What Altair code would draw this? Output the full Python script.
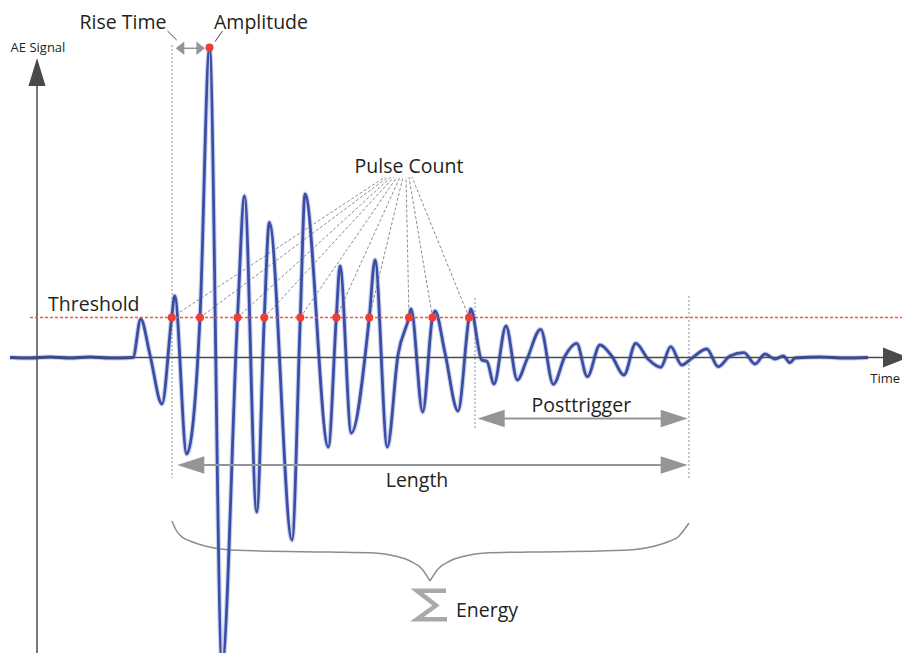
import altair as alt
import pandas as pd

# ---------------- data ----------------
# AE waveform: time (arbitrary units) and signal amplitude (arbitrary units)
wave_time = [-27, -7, 13, 33, 53, 73, 96, 103.7, 113, 125, 134.7, 137.7, 149.7, 163, 172.5,
             185, 200.5, 207.5, 219.7, 227.3, 232.3, 255, 263.3, 268, 291.3, 299.3, 303,
             314.3, 332.3, 338, 350.3, 361, 372, 374, 385.7, 395.5, 398, 408, 421, 432,
             433.7, 444.7, 450, 457, 469, 480.3, 489.7, 503.7, 516.3, 528, 539.7, 550.3,
             563, 574.7, 587, 598.7, 611.3, 623.7, 633.7, 644.7, 654.7, 669.7, 681.3, 693,
             707, 718, 728, 738, 746.3, 753, 758, 783, 808, 831]
wave_amp = [0, -0.5, 0.5, -0.5, 0.5, -0.5, 0, 38.5, 2.5, -46.5, 40, 61.5, -96.5, 40, 309.5,
            -307.5, 40, 161.5, -154.5, 40, 135, -182.5, 40, 163.5, -89.5, 40, 91.5,
            -75.5, 40, 97.5, -89.5, 2.5, 40, 48.5, -54.5, 40, 46.5, 4.5, -53.5, 40,
            48.5, -2.5, -4, -26.5, 31.5, -22.5, -2.5, 28.2, -26.8, 1.5, 14.2, -19.2,
            12.5, 1.5, -17.5, 14.2, -1.8, -9.8, 10.8, -7.5, -0.8, 8.5, -9.2, 1.5,
            4.8, -6.5, 3.5, -1.5, 1.5, -5.2, -0.5, 0.5, -0.5, 0]

threshold = 40
hit_time = [134.7, 163, 200.5, 227.3, 263.3, 299.3, 332.3, 372, 395.5, 432]
peak_time = [172.5]
peak_amp = [310]
pulse_anchor_time = [348, 351, 354, 357, 360, 363, 366, 369, 372, 375]
pulse_anchor_amp = 180.5

# brace (two halves) and sigma glyph
brace_left_t = [135, 139, 145, 153, 168, 188, 223, 293, 338, 358, 373, 385, 393]
brace_left_v = [-163.5, -172.5, -179.5, -183.5, -188.5, -192, -193.5, -194.5, -195.5,
                -198.5, -203.5, -211.5, -223.5]
brace_right_t = [393, 401, 413, 428, 448, 493, 563, 598, 618, 633, 641, 647, 652]
brace_right_v = [-223.5, -211.5, -203.5, -198.5, -195.5, -194.5, -193.5, -192, -188.5,
                 -183.5, -179.5, -172.5, -165.5]
sigma_t = [409, 380, 399, 380, 410]
sigma_v = [-233.3, -233.3, -248, -261.7, -261.7]

# labels
big_labels = ["Rise Time", "Amplitude", "Threshold", "Pulse Count", "Posttrigger", "Length"]
big_label_t = [86, 224, 56.8, 372, 544.3, 380]
big_label_v = [328.5, 328.5, 46.8, 184.8, -54, -129.2]

# ---------------- scales ----------------
W, H = 894, 645
xs = alt.Scale(domain=[-29, 865], nice=False, zero=False)
ys = alt.Scale(domain=[349.5 - H, 349.5], nice=False, zero=False)


def X(f):
    return alt.X(f, type="quantitative", scale=xs, axis=None)


def Y(f):
    return alt.Y(f, type="quantitative", scale=ys, axis=None)


GRAY = "#939598"
DARK = "#4a4a4c"
TXT = "#231f20"
RED = "#ee3e36"
FONT = "Open Sans"

wave_df = pd.DataFrame({"t": wave_time, "v": wave_amp})
halo = alt.Chart(wave_df).mark_line(interpolate="monotone", color="#8f9bd3",
                                    strokeWidth=5, opacity=0.45).encode(x=X("t"), y=Y("v"))
wave = alt.Chart(wave_df).mark_line(interpolate="monotone", color="#3a4ea6",
                                    strokeWidth=2.8).encode(x=X("t"), y=Y("v"))

# axes
axis_df = pd.DataFrame({"t": [-27, 0], "t2": [848, 0], "v": [0, 271.5], "v2": [0, -330]})
axes = alt.Chart(axis_df).mark_rule(color=DARK, strokeWidth=1.5).encode(
    x=X("t"), x2="t2", y=Y("v"), y2="v2")


def head(t, v, path, size, color):
    return alt.Chart(pd.DataFrame({"t": t, "v": v})).mark_point(
        shape=path, size=size, filled=True, color=color, opacity=1, strokeWidth=0
    ).encode(x=X("t"), y=Y("v"))


y_head = head([0], [299.5], "M0,0L-0.61,2L0.61,2Z", 784, DARK)
x_head = head([871], [0], "M0,0L-2,-0.8L-2,0.8Z", 625, DARK)

# threshold
thr = alt.Chart(pd.DataFrame({"t": [-7], "t2": [868], "v": [threshold]})).mark_rule(
    color="#f05a42", strokeWidth=1.3, strokeDash=[3, 2]).encode(x=X("t"), x2="t2", y=Y("v"))

# pulse count leader lines
pulse_df = pd.DataFrame({"t": hit_time, "v": [threshold] * len(hit_time),
                         "t2": pulse_anchor_time, "v2": [pulse_anchor_amp] * len(hit_time)})
pulse = alt.Chart(pulse_df).mark_rule(color="#8a8c8f", strokeWidth=1, strokeDash=[3, 2]).encode(
    x=X("t"), y=Y("v"), x2="t2", y2="v2")

# vertical dotted markers
vdf = pd.DataFrame({"t": [135, 438, 652], "v": [312.5, 59.5, 61.5], "v2": [-120.5, -72.5, -120.5]})
vlines = alt.Chart(vdf).mark_rule(color="#8a8c8f", strokeWidth=1, strokeDash=[2, 2]).encode(
    x=X("t"), y=Y("v"), y2="v2")

# text leader lines
ldf = pd.DataFrame({"t": [130.5, 185.5], "v": [326.5, 326.5], "t2": [139.7, 178], "v2": [317.5, 315.8]})
leaders = alt.Chart(ldf).mark_rule(color=DARK, strokeWidth=1).encode(
    x=X("t"), y=Y("v"), x2="t2", y2="v2")

# double arrows
adf = pd.DataFrame({"t": [150, 450], "t2": [641, 641], "v": [-107.5, -61]})
arrow_lines = alt.Chart(adf).mark_rule(color=GRAY, strokeWidth=2).encode(x=X("t"), x2="t2", y=Y("v"))
rise_line = alt.Chart(pd.DataFrame({"t": [146], "t2": [160], "v": [309.2]})).mark_rule(
    color=GRAY, strokeWidth=1.5).encode(x=X("t"), x2="t2", y=Y("v"))
left_heads = head([140.3, 440.7], [-107.5, -61], "M0,0L2,-0.64L2,0.64Z", 729, GRAY)
right_heads = head([650.7, 650.7], [-107.5, -61], "M0,0L-2,-0.64L-2,0.64Z", 729, GRAY)
rise_l = head([138.7], [309.2], "M0,0L2,-1.56L2,1.56Z", 74, GRAY)
rise_r = head([168], [309.2], "M0,0L-2,-1.56L-2,1.56Z", 74, GRAY)

# dots
dot_df = pd.DataFrame({"t": hit_time + peak_time, "v": [threshold] * len(hit_time) + peak_amp})
dots = alt.Chart(dot_df).mark_circle(color=RED, size=64, opacity=1).encode(x=X("t"), y=Y("v"))

# brace
brace_df = pd.concat([
    pd.DataFrame({"t": brace_left_t, "v": brace_left_v, "part": "l"}),
    pd.DataFrame({"t": brace_right_t, "v": brace_right_v, "part": "r"}),
])
brace = alt.Chart(brace_df).mark_line(interpolate="monotone", color="#8a8c8f", strokeWidth=1.5).encode(
    x=X("t"), y=Y("v"), detail="part:N")

sigma_df = pd.DataFrame({"t": sigma_t, "v": sigma_v, "i": list(range(len(sigma_t)))})
sigma = alt.Chart(sigma_df).mark_line(color="#a7a9ac", strokeWidth=4.5, strokeJoin="miter").encode(
    x=X("t"), y=Y("v"), order="i:Q")

# texts
big_df = pd.DataFrame({"t": big_label_t, "v": big_label_v, "s": big_labels})
big_text = alt.Chart(big_df).mark_text(align="center", baseline="alphabetic", font=FONT,
                                       fontSize=19.5, color=TXT).encode(x=X("t"), y=Y("v"), text="s:N")
energy_text = alt.Chart(pd.DataFrame({"t": [419], "v": [-259.2], "s": ["Energy"]})).mark_text(
    align="left", baseline="alphabetic", font=FONT, fontSize=19.5, color=TXT).encode(
    x=X("t"), y=Y("v"), text="s:N")
ae_text = alt.Chart(pd.DataFrame({"t": [1], "v": [305.2], "s": ["AE Signal"]})).mark_text(
    align="center", baseline="alphabetic", font=FONT, fontSize=13, color=TXT).encode(
    x=X("t"), y=Y("v"), text="s:N")
time_text = alt.Chart(pd.DataFrame({"t": [863], "v": [-25.5], "s": ["Time"]})).mark_text(
    align="right", baseline="alphabetic", font=FONT, fontSize=13, color=TXT).encode(
    x=X("t"), y=Y("v"), text="s:N")

chart = alt.layer(
    vlines, pulse, brace, sigma, halo, wave, axes, y_head, x_head, thr,
    leaders, arrow_lines, rise_line, left_heads, right_heads, rise_l, rise_r, dots,
    big_text, energy_text, ae_text, time_text,
).properties(
    width=W, height=H, padding=0, autosize=alt.AutoSizeParams(type="none"), background="white"
).configure_view(stroke=None)

chart.save("out.html", embed_options={"renderer": "svg", "actions": False})
